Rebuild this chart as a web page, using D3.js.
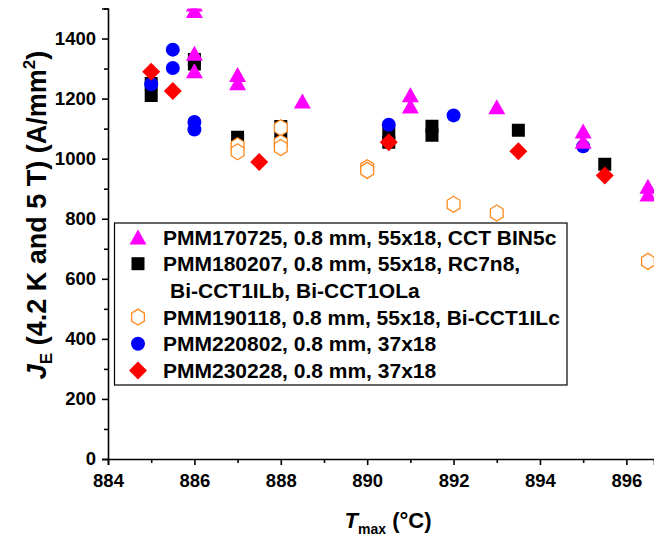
<!DOCTYPE html>
<html>
<head>
<meta charset="utf-8">
<script src="https://cdn.jsdelivr.net/npm/d3@7"></script>
<style>
  html, body { margin: 0; padding: 0; background: #fff; }
  svg { display: block; font-family: "Liberation Sans", Arial, sans-serif; font-weight: bold; }
</style>
</head>
<body>
<svg id="chart" width="654" height="537"></svg>
<script>
// ---- data ----
const xTicks = [884, 886, 888, 890, 892, 894, 896];
const yTicks = [0, 200, 400, 600, 800, 1000, 1200, 1400];

const s170725 = [ // magenta triangles
  [886, 1515], [886, 1493], [886, 1351], [886, 1293], [887, 1280], [887, 1253],
  [888.5, 1192], [891, 1213], [891, 1175], [893, 1173], [895, 1092], [895, 1058],
  [896.5, 908], [896.5, 882]
];
const s180207 = [ // black squares
  [885, 1250], [885, 1210], [886, 1330], [886, 1315], [887, 1071], [888, 1107], [888, 1072],
  [890.5, 1084], [890.5, 1055], [891.5, 1108], [891.5, 1078], [893.5, 1095], [895.5, 981]
];
const s190118 = [ // orange open hexagons
  [887, 1043], [887, 1023], [888, 1103], [888, 1053], [888, 1037],
  [890, 970], [890, 961], [892, 848], [893, 819], [896.5, 658]
];
const s220802 = [ // blue circles
  [885, 1248], [885.5, 1363], [885.5, 1302], [886, 1122], [886, 1097],
  [890.5, 1113], [892, 1144], [895, 1041]
];
const s230228 = [ // red diamonds
  [885, 1289], [885.5, 1225], [887.5, 989], [890.5, 1055], [893.5, 1025], [895.5, 944]
];
const legendLabels = [
  ["PMM170725, 0.8 mm, 55x18, CCT BIN5c"],
  ["PMM180207, 0.8 mm, 55x18, RC7n8,", "Bi-CCT1ILb, Bi-CCT1OLa"],
  ["PMM190118, 0.8 mm, 55x18, Bi-CCT1ILc"],
  ["PMM220802, 0.8 mm, 37x18"],
  ["PMM230228, 0.8 mm, 37x18"]
];

// ---- layout ----
const svg = d3.select("#chart");
const pL = 108, pR = 654, pT = 8.5, pB = 459;
const x = d3.scaleLinear().domain([884, 896.64]).range([pL, pR]);
const y = d3.scaleLinear().domain([0, 1500]).range([pB, pT]);

// symbol path generators (bbox-centred)
const shapes = {
  triangle: (w = 17, h = 15) => `M0,${-h/2}L${w/2},${h/2}L${-w/2},${h/2}Z`,
  square: (s = 13) => `M${-s/2},${-s/2}h${s}v${s}h${-s}Z`,
  hexagon: (r = 8) => { let p = ""; for (let i = 0; i < 6; i++) { const a = Math.PI/3*i - Math.PI/2; p += (i ? "L" : "M") + (r*0.92*Math.cos(a)).toFixed(2) + "," + (r*Math.sin(a)).toFixed(2); } return p + "Z"; },
  circle: (r = 7) => `M${r},0A${r},${r} 0 1,1 ${-r},0A${r},${r} 0 1,1 ${r},0Z`,
  diamond: (r = 9) => `M0,${-r}L${r},0L0,${r}L${-r},0Z`
};
const series = [
  { data: s170725, path: shapes.triangle(), fill: "#ff00ff", stroke: "none" },
  { data: s180207, path: shapes.square(), fill: "#000000", stroke: "none" },
  { data: s190118, path: shapes.hexagon(), fill: "#ffffff", stroke: "#ff8a1e" },
  { data: s220802, path: shapes.circle(), fill: "#0000ff", stroke: "none" },
  { data: s230228, path: shapes.diamond(), fill: "#ff0000", stroke: "none" }
];
const drawOrder = [1, 2, 3, 4, 0];

svg.append("defs").append("clipPath").attr("id", "clip")
  .append("rect").attr("x", pL - 10).attr("y", pT).attr("width", pR - pL + 20).attr("height", pB - pT + 10);

const plot = svg.append("g").attr("clip-path", "url(#clip)");
drawOrder.forEach(i => {
  const s = series[i];
  plot.append("g").selectAll("path").data(s.data).join("path")
    .attr("d", s.path)
    .attr("transform", d => `translate(${x(d[0])},${y(d[1])})`)
    .attr("fill", s.fill)
    .attr("stroke", s.stroke)
    .attr("stroke-width", 1.3);
});

// ---- axes ----
const xAxis = svg.append("g").attr("transform", `translate(0,${pB})`)
  .call(d3.axisBottom(x).tickValues(xTicks).tickFormat(d3.format("d")).tickSize(6).tickPadding(9));
const xMinor = svg.append("g").attr("transform", `translate(0,${pB})`)
  .call(d3.axisBottom(x).tickValues(d3.range(885, 897, 2)).tickFormat("").tickSize(4));
const yAxis = svg.append("g").attr("transform", `translate(${pL},0)`)
  .call(d3.axisLeft(y).tickValues(yTicks).tickFormat(d3.format("d")).tickSize(6).tickPadding(6));
const yMinor = svg.append("g").attr("transform", `translate(${pL},0)`)
  .call(d3.axisLeft(y).tickValues(d3.range(100, 1600, 200)).tickFormat("").tickSize(4));

[xAxis, xMinor, yAxis, yMinor].forEach(g => {
  g.select(".domain").attr("stroke", "#000").attr("stroke-width", 1.6);
  g.selectAll(".tick line").attr("stroke", "#000").attr("stroke-width", 1.6);
  g.selectAll(".tick text").attr("fill", "#000").attr("font-size", 18.5)
    .attr("font-family", "'Liberation Sans', Arial, sans-serif").attr("font-weight", "bold");
});
xMinor.select(".domain").remove();
yMinor.select(".domain").remove();

// axis titles
const xt = svg.append("text").attr("x", 388).attr("y", 528).attr("text-anchor", "middle").attr("font-size", 22);
xt.append("tspan").attr("font-style", "italic").text("T");
xt.append("tspan").attr("font-size", 14).attr("dy", 6).text("max");
xt.append("tspan").attr("dy", -6).text(" (°C)");

const yt = svg.append("text").attr("transform", "translate(46,215) rotate(-90)").attr("text-anchor", "middle").attr("font-size", 27);
yt.append("tspan").attr("font-style", "italic").text("J");
yt.append("tspan").attr("font-size", 17).attr("dy", 6).text("E");
yt.append("tspan").attr("dy", -6).text(" (4.2 K and 5 T) (A/mm");
yt.append("tspan").attr("font-size", 17).attr("dy", -11).text("2");
yt.append("tspan").attr("dy", 11).text(")");

// ---- legend ----
const lg = svg.append("g");
lg.append("rect").attr("x", 114.5).attr("y", 223).attr("width", 452.5).attr("height", 162)
  .attr("fill", "#fff").attr("stroke", "#000").attr("stroke-width", 1.2);
const rowH = 26.7;
let row = 0;
legendLabels.forEach((lines, i) => {
  const s = series[i];
  const cy = 237 + row * rowH;
  lg.append("path").attr("d", s.path).attr("transform", `translate(138,${cy})`)
    .attr("fill", s.fill).attr("stroke", s.stroke).attr("stroke-width", 1.3);
  lines.forEach((t, j) => {
    lg.append("text").attr("x", j ? 170 : 163).attr("y", cy + (j * rowH) + 7.5)
      .attr("font-size", 21).attr("fill", "#000").text(t);
  });
  row += lines.length;
});
</script>
</body>
</html>
